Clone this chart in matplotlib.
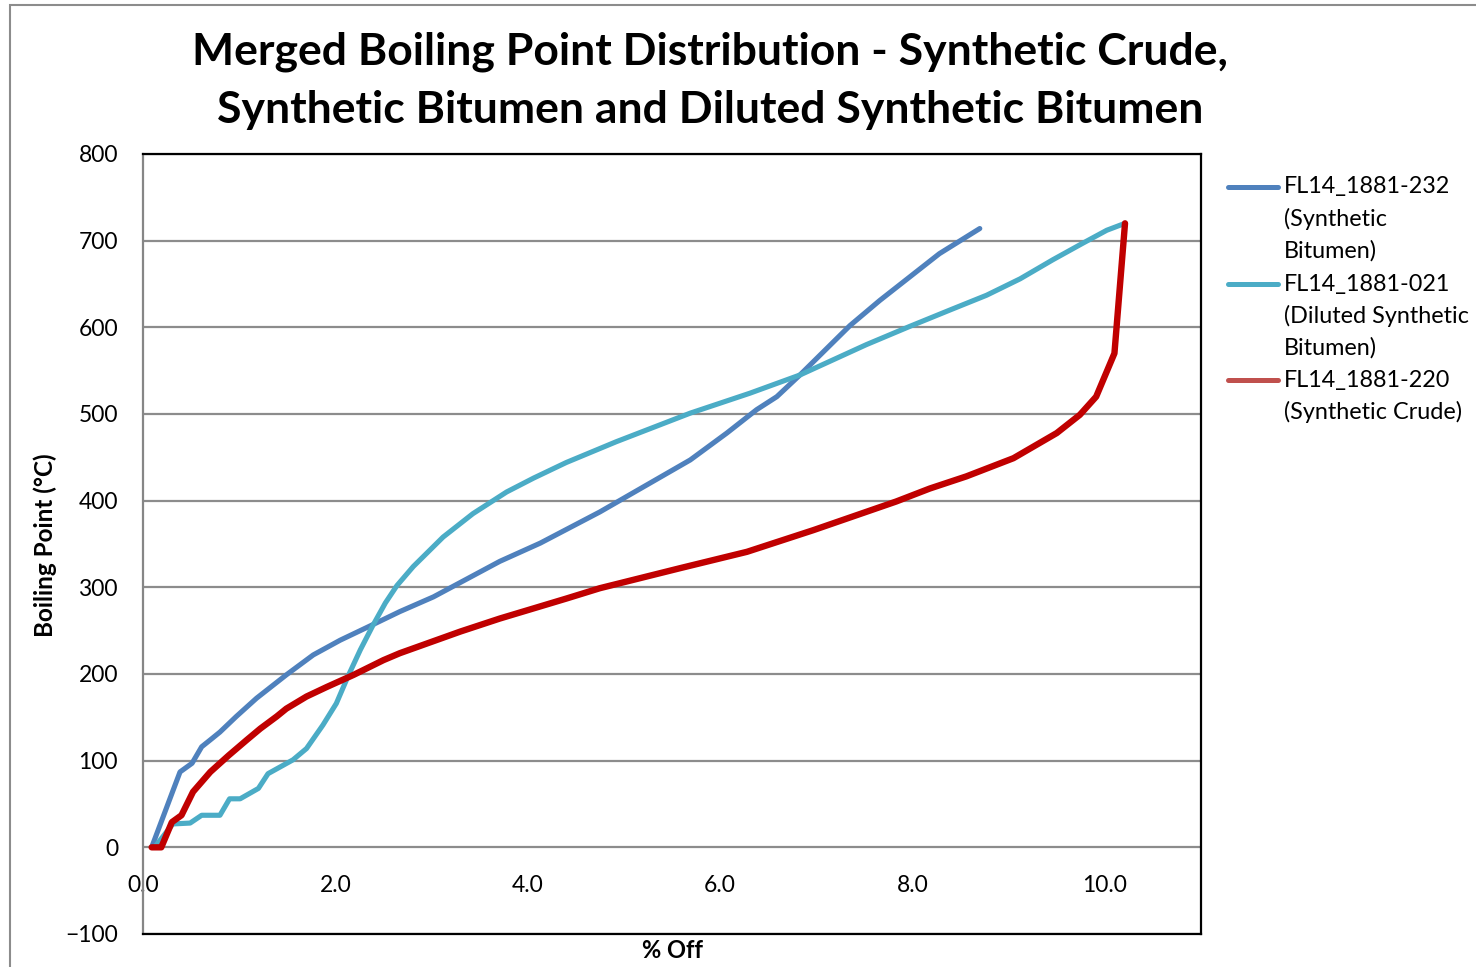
import matplotlib
matplotlib.use("Agg")
import matplotlib.pyplot as plt
from matplotlib.lines import Line2D
from matplotlib.patches import Rectangle

plt.rcParams['font.family'] = ['Lato', 'DejaVu Sans']

# Synthetic Bitumen (FL14_1881-232)
bit_x = [0.09, 0.30, 0.385, 0.51, 0.61, 0.70, 0.80, 0.97, 1.18, 1.49, 1.77, 2.05, 2.39, 2.67,
         3.02, 3.71, 4.13, 4.75, 5.69, 6.07, 6.38, 6.59, 6.83, 7.35, 7.66, 7.97, 8.28, 8.70]
bit_y = [0, 62, 87, 97, 116, 124, 133, 151, 172, 199, 222, 239, 257, 272,
         289, 330, 351, 387, 447, 478, 505, 520, 545, 602, 631, 658, 685, 714]

# Diluted Synthetic Bitumen (FL14_1881-021)
dil_x = [0.12, 0.31, 0.49, 0.61, 0.80, 0.90, 1.01, 1.20, 1.30, 1.56, 1.70, 1.87, 2.01, 2.13,
         2.26, 2.39, 2.52, 2.64, 2.81, 3.12, 3.43, 3.78, 4.06, 4.40, 4.92, 5.69, 6.31, 6.83,
         7.52, 7.97, 8.39, 8.77, 9.12, 9.46, 9.77, 10.02, 10.21]
dil_y = [0, 27, 28, 37, 37, 56, 56, 68, 85, 101, 114, 141, 166, 197,
         228, 256, 282, 302, 324, 358, 385, 410, 426, 444, 468, 501, 524, 545,
         580, 601, 620, 637, 656, 678, 697, 712, 720]

# Synthetic Crude (FL14_1881-220)
crude_x = [0.09, 0.19, 0.30, 0.40, 0.52, 0.70, 0.89, 1.08, 1.22, 1.39, 1.49, 1.70, 1.91, 2.19,
           2.50, 2.67, 3.30, 3.71, 4.40, 4.75, 5.58, 6.28, 6.97, 7.83, 8.18, 8.56, 9.05, 9.50,
           9.74, 9.91, 10.10, 10.21]
crude_y = [0, 0, 29, 37, 64, 87, 106, 124, 137, 151, 160, 174, 185, 199,
           216, 224, 249, 264, 287, 299, 322, 341, 366, 399, 414, 428, 449, 478,
           499, 520, 570, 720]

labels = ["FL14_1881-232\n(Synthetic\nBitumen)",
          "FL14_1881-021\n(Diluted Synthetic\nBitumen)",
          "FL14_1881-220\n(Synthetic Crude)"]
title_lines = ["Merged Boiling Point Distribution - Synthetic Crude,",
               "Synthetic Bitumen and Diluted Synthetic Bitumen"]
x_ticks = [0, 2, 4, 6, 8, 10]
y_ticks = list(range(-100, 801, 100))

W, H = 1476, 967
fig = plt.figure(figsize=(W / 100, H / 100), dpi=100)
ax = fig.add_axes([143 / W, 1 - 934 / H, (1201 - 143) / W, (934 - 154) / H])

line_kw = dict(solid_capstyle='round', solid_joinstyle='round')
ax.plot(bit_x, bit_y, color='#4F81BD', lw=3.7, zorder=3, **line_kw)
ax.plot(dil_x, dil_y, color='#4BACC6', lw=3.7, zorder=3, **line_kw)
ax.plot(crude_x, crude_y, color='#C00000', lw=4.6, zorder=4, **line_kw)

ax.set_xlim(0, 11)
ax.set_ylim(-100, 800)
ax.set_yticks(y_ticks)
ax.yaxis.grid(True, color='#8C8C8C', lw=1.6)
ax.set_axisbelow(True)
ax.tick_params(axis='y', length=0, pad=18, labelsize=16.5)
ax.set_xticks([])
for s in ['top', 'right', 'bottom']:
    ax.spines[s].set_color('black')
    ax.spines[s].set_linewidth(1.6)
ax.spines['left'].set_color('#868686')
ax.spines['left'].set_linewidth(1.6)

# category axis crosses at y = 0
sec = ax.secondary_xaxis(100 / 900)
sec.set_xticks(x_ticks)
sec.set_xticklabels([f"{v:.1f}" for v in x_ticks])
sec.tick_params(length=0, pad=20, labelsize=16.5)
sec.spines['bottom'].set_visible(False)

for txt, y in zip(title_lines, [52, 110]):
    fig.text(710 / W, 1 - y / H, txt, ha='center', va='center', fontsize=32, fontweight='bold')
fig.text(45 / W, 1 - 545 / H, "Boiling Point (°C)", rotation=90, ha='center', va='center',
         fontsize=17.5, fontweight='bold')
fig.text(672 / W, 1 - 951 / H, "% Off", ha='center', va='center', fontsize=17, fontweight='bold')

# legend drawn by hand
leg_colors = ['#4F81BD', '#4BACC6', '#C0504D']
leg_y = [187, 284, 380]
for c, y, lab in zip(leg_colors, leg_y, labels):
    fig.add_artist(Line2D([1228 / W, 1278 / W], [1 - y / H, 1 - y / H], color=c, lw=3.6,
                          solid_capstyle='round'))
    for i, part in enumerate(lab.split("\n")):
        fig.text(1284 / W, 1 - (y + 32 * i) / H, part, ha='left', va='center', fontsize=16.8)

fig.add_artist(Rectangle((10 / W, -0.05), 1.2, 1.05 - 5 / H, transform=fig.transFigure,
                         fill=False, edgecolor='#8C8C8C', lw=1.5))

fig.savefig("out.png", dpi=100)
